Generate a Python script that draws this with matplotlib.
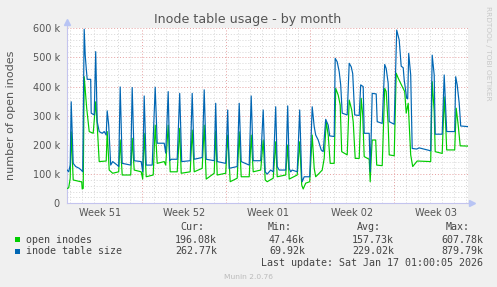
import matplotlib
matplotlib.use("Agg")
import matplotlib.pyplot as plt
from matplotlib.patches import Rectangle
import numpy as np

# time axis is in hours since the left edge of the graph (33 days)
hours_open = [1, 4, 7, 9, 13, 28, 30, 31, 33, 35, 40, 45, 53, 58, 61, 65, 79, 81, 85, 92,
              104, 107, 111, 128, 131, 135, 149, 152, 155, 159, 173, 177, 181, 195, 198, 203,
              207, 221, 226, 229, 247, 251, 255, 271, 275, 279, 295, 298, 301, 318, 322, 327,
              341, 345, 349, 365, 369, 373, 388, 393, 397, 401, 413, 418, 421, 438, 442, 445,
              461, 466, 470, 473, 478, 486, 491, 495, 498, 505, 511, 515, 519, 523, 527, 535,
              538, 543, 547, 550, 561, 565, 570, 573, 577, 585, 589, 592, 595, 605, 607, 609,
              611, 618, 620, 631, 636, 639, 643, 645, 655, 659, 663, 668, 673, 676, 679, 683,
              688, 692, 701, 728, 731, 735, 737, 751, 755, 758, 760, 776, 779, 783, 787, 803]
open_inodes = [51, 53, 86, 245, 80, 74, 74, 49, 51, 434, 326, 246, 240, 348, 268, 143, 145, 246, 114, 103,
               108, 217, 97, 97, 223, 114, 108, 83, 240, 91, 97, 268, 137, 143, 131, 268,
               108, 108, 257, 103, 108, 251, 108, 120, 268, 83, 103, 248, 97, 103, 234, 74,
               86, 245, 91, 91, 234, 108, 114, 217, 80, 74, 86, 211, 91, 97, 200, 83,
               97, 211, 63, 49, 69, 74, 234, 120, 91, 103, 114, 154, 280, 234, 137, 137,
               394, 371, 337, 177, 166, 354, 320, 280, 154, 154, 360, 303, 160, 151, 74, 154,
               217, 217, 131, 129, 394, 383, 268, 166, 163, 446, 429, 411, 394, 383, 309, 343,
               166, 126, 145, 143, 417, 314, 177, 171, 365, 268, 183, 183, 326, 268, 197, 196]

hours_table = [1, 4, 7, 9, 13, 18, 25, 29, 32, 35, 37, 39, 41, 48, 49, 55, 58, 61, 65, 71,
               75, 79, 81, 84, 88, 92, 101, 104, 107, 111, 128, 131, 135, 149, 152, 155, 159,
               171, 177, 181, 195, 198, 203, 206, 209, 221, 226, 230, 247, 251, 255, 271, 275,
               279, 295, 298, 301, 318, 322, 325, 341, 345, 349, 365, 369, 373, 388, 393, 397,
               401, 408, 413, 418, 421, 425, 438, 442, 445, 448, 451, 461, 466, 470, 471, 475,
               486, 491, 495, 498, 503, 509, 513, 518, 523, 526, 535, 537, 541, 545, 548, 551,
               561, 565, 569, 572, 576, 585, 588, 593, 595, 605, 607, 609, 611, 619, 621, 631,
               636, 639, 643, 645, 655, 660, 665, 669, 673, 675, 680, 682, 684, 688, 691, 700,
               705, 728, 731, 735, 737, 751, 755, 758, 760, 776, 778, 781, 785, 788, 803]
table_size = [114, 108, 131, 348, 137, 126, 120, 114, 108, 597, 509, 464, 425, 425, 309, 303, 520, 280, 246, 240,
              246, 234, 317, 268, 131, 143, 131, 126, 399, 137, 131, 397, 146, 143, 108, 368, 131,
              131, 398, 206, 206, 172, 383, 146, 151, 151, 377, 143, 146, 377, 151, 157, 389,
              151, 146, 343, 143, 137, 320, 120, 126, 343, 143, 131, 368, 146, 146, 320, 108,
              100, 114, 108, 331, 126, 114, 114, 334, 120, 108, 114, 108, 320, 91, 74, 91,
              91, 331, 263, 234, 217, 183, 177, 288, 268, 231, 229, 497, 485, 451, 406, 309,
              303, 480, 468, 445, 303, 301, 406, 400, 240, 240, 108, 234, 377, 375, 280, 274,
              476, 462, 411, 280, 271, 594, 560, 470, 465, 423, 360, 358, 514, 440, 188, 186,
              190, 180, 508, 440, 237, 237, 440, 326, 246, 246, 434, 406, 343, 265, 263]

week_starts = [150, 318, 486, 654]
week_labels = ["Week 51", "Week 52", "Week 01", "Week 02", "Week 03"]
graph_hours = 802.6

series_names = ["open inodes", "inode table size"]
cur_vals = ["196.08k", "262.77k"]
min_vals = ["47.46k", "69.92k"]
avg_vals = ["157.73k", "229.02k"]
max_vals = ["607.78k", "879.79k"]
last_update = "Last update: Sat Jan 17 01:00:05 2026"

W, H = 497, 287
colors = ["#00CC00", "#0066B3"]
grey_txt = "#555555"
axis_col = "#c4c4ee"

fig = plt.figure(figsize=(W / 100, H / 100), dpi=100, facecolor="#F0F0F0")
ax = fig.add_axes([66.7 / W, 1 - 203.3 / H, (468 - 66.7) / W, (203.3 - 28.3) / H])
ax.set_facecolor("white")

ax.plot(hours_open, np.array(open_inodes) * 1000, color=colors[0], lw=0.85, zorder=3)
ax.plot(hours_table, np.array(table_size) * 1000, color=colors[1], lw=0.85, zorder=4)

ax.set_xlim(0, graph_hours)
ax.set_ylim(0, 600000)

yt = np.arange(0, 600001, 100000)
ax.set_yticks(yt, ["0"] + ["%d k" % (v // 1000) for v in yt[1:]])
ax.set_yticks(np.arange(0, 600001, 20000), minor=True)
ax.grid(axis="y", which="minor", color="#d6d6d6", ls=(0, (1, 2)), lw=0.7)
ax.grid(axis="y", which="major", color="#e6a0a0", ls=(0, (1, 2)), lw=0.7)
ax.set_axisbelow(True)

for h in np.arange(week_starts[0] % 24, graph_hours, 24):
    if h not in week_starts:
        ax.axvline(h, color="#d6d6d6", ls=(0, (1, 2)), lw=0.7, zorder=0.5)
for h in week_starts:
    ax.axvline(h, color="#e6a0a0", ls=(0, (1, 2)), lw=0.7, zorder=0.6)

label_hours = [s + 84 for s in [week_starts[0] - 168] + week_starts]
ax.set_xticks(label_hours, week_labels)
ax.tick_params(axis="x", length=0, pad=3.5, labelsize=7, labelcolor=grey_txt)
ax.tick_params(axis="y", which="both", length=0, pad=5, labelsize=7, labelcolor=grey_txt)

for s in ["top", "right"]:
    ax.spines[s].set_visible(False)
for s in ["left", "bottom"]:
    ax.spines[s].set_color(axis_col)
    ax.spines[s].set_linewidth(0.8)
ax.plot([0, 0], [1, 1.035], transform=ax.transAxes, color=axis_col, lw=0.8, clip_on=False)
ax.plot([0], [1.035], marker="^", ms=4, color="#b8c4f4", transform=ax.transAxes, clip_on=False)
ax.plot([1, 1.01], [0, 0], transform=ax.transAxes, color=axis_col, lw=0.8, clip_on=False)
ax.plot([1.01], [0], marker=">", ms=4, color="#b8c4f4", transform=ax.transAxes, clip_on=False)


def fx(x):
    return x / W


def fy(y):
    return 1 - y / H


fig.text(fx(248), fy(19), "Inode table usage - by month", ha="center", va="center",
         fontsize=9.1, color=grey_txt)
fig.text(fx(11), fy(115), "number of open inodes", rotation=90, ha="center", va="center",
         fontsize=8, color=grey_txt)
fig.text(fx(488), fy(53), "RRDTOOL / TOBI OETIKER", rotation=-90, ha="center", va="center",
         fontsize=5.3, color="#c8c8c8")

mono = dict(family="DejaVu Sans Mono", fontsize=7.2, color="#444444", va="center")
for txt, xr in zip(["Cur:", "Min:", "Avg:", "Max:"], [204, 292, 381, 470]):
    fig.text(fx(xr), fy(227.5), txt, ha="right", **mono)
for i, name in enumerate(series_names):
    yy = 239.7 + i * 11.8
    fig.patches.append(Rectangle((fx(15), fy(yy + 2.5)), 5 / W, 5 / H, transform=fig.transFigure,
                                 facecolor=colors[i], edgecolor="none"))
    fig.text(fx(26), fy(yy), name, ha="left", **mono)
    for vals, xr in zip([cur_vals, min_vals, avg_vals, max_vals], [217, 305, 394, 483]):
        fig.text(fx(xr), fy(yy), vals[i], ha="right", **mono)
fig.text(fx(483), fy(263.3), last_update, ha="right", **mono)
fig.text(fx(248), fy(276.7), "Munin 2.0.76", ha="center", va="center", fontsize=5.4, color="#bbbbbb")

fig.savefig("out.png", dpi=100, facecolor=fig.get_facecolor())
